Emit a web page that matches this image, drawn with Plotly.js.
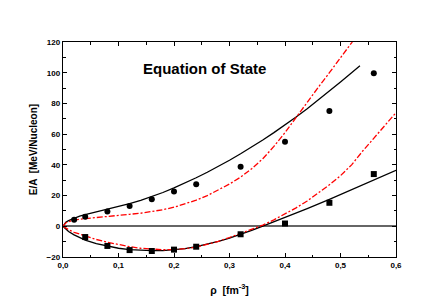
<!DOCTYPE html>
<html><head><meta charset="utf-8">
<script src="https://cdn.plot.ly/plotly-3.0.1.min.js"></script>
<style>html,body{margin:0;padding:0;background:#fff}#plot{width:436px;height:304px}</style>
</head><body><div id="plot"></div>
<script>
// Data points
const rhoNeutronPts = [0.02, 0.04, 0.08, 0.12, 0.16, 0.20, 0.24, 0.32, 0.40, 0.48, 0.56];
const eNeutronPts   = [4.2, 6.2, 9.6, 13.2, 17.6, 22.6, 27.3, 38.8, 55, 75, 99.7];
const rhoSymPts = [0.04, 0.08, 0.12, 0.16, 0.20, 0.24, 0.32, 0.40, 0.48, 0.56];
const eSymPts   = [-7, -12.8, -15.5, -16.1, -15.2, -13.3, -5.2, 1.8, 15.3, 34];

// Black solid curves
const rhoNeutronCurve = [0, 0.005, 0.01, 0.02, 0.03, 0.04, 0.06, 0.08, 0.10, 0.12, 0.14, 0.16, 0.18, 0.20, 0.22, 0.24, 0.26, 0.28, 0.30, 0.32, 0.34, 0.36, 0.38, 0.40, 0.42, 0.44, 0.46, 0.48, 0.50, 0.52, 0.535];
const eNeutronCurve   = [0, 2.6, 3.7, 5.4, 6.6, 7.6, 9.3, 11.0, 12.8, 14.8, 16.9, 19.3, 22.0, 25.0, 28.2, 31.6, 35.2, 39.0, 43.0, 47.2, 51.6, 56.2, 61.0, 66.0, 71.2, 76.6, 82.2, 88.0, 94.0, 100.0, 104.5];
const rhoSymCurve = [0, 0.005, 0.01, 0.02, 0.04, 0.06, 0.08, 0.10, 0.12, 0.14, 0.16, 0.18, 0.20, 0.22, 0.24, 0.26, 0.28, 0.30, 0.32, 0.34, 0.36, 0.38, 0.40, 0.44, 0.48, 0.52, 0.56, 0.60];
const eSymCurve   = [0, -2.0, -3.4, -5.6, -9.0, -11.3, -13.0, -14.3, -15.2, -15.7, -15.9, -15.8, -15.3, -14.5, -13.3, -11.8, -9.9, -7.7, -5.3, -2.7, 0.1, 2.9, 5.6, 11.5, 17.5, 23.7, 30.0, 36.5];

// Red dash-dot curves
const rhoNeutronAlt = [0, 0.005, 0.01, 0.02, 0.04, 0.06, 0.08, 0.10, 0.12, 0.14, 0.16, 0.18, 0.20, 0.22, 0.24, 0.26, 0.28, 0.30, 0.32, 0.34, 0.36, 0.38, 0.40, 0.42, 0.44, 0.46, 0.48, 0.50, 0.52, 0.53];
const eNeutronAlt   = [0, 2.2, 3.0, 4.0, 5.0, 5.8, 6.5, 7.0, 7.8, 8.5, 9.5, 10.8, 12.4, 14.5, 17.0, 20.0, 23.5, 27.5, 32.0, 37.5, 44.0, 52.0, 61.0, 71.0, 81.0, 90.5, 100.0, 109.5, 119.5, 125.0];
const rhoSymAlt = [0, 0.005, 0.01, 0.02, 0.04, 0.06, 0.08, 0.10, 0.12, 0.14, 0.16, 0.18, 0.20, 0.22, 0.24, 0.26, 0.28, 0.30, 0.32, 0.34, 0.36, 0.38, 0.40, 0.42, 0.44, 0.46, 0.48, 0.50, 0.52, 0.54, 0.56, 0.58, 0.60];
const eSymAlt   = [0, -1.2, -2.2, -3.9, -6.5, -8.6, -10.4, -12.0, -13.3, -14.3, -15.0, -15.3, -15.2, -14.6, -13.5, -11.9, -9.8, -7.3, -4.5, -2.0, 0.8, 4.2, 8.0, 12.0, 16.5, 21.5, 27.0, 33.0, 40.0, 49.0, 57.5, 65.5, 74.0];

const xTickVals = [0, 0.1, 0.2, 0.3, 0.4, 0.5, 0.6];
const xTickText = ['0,0', '0,1', '0,2', '0,3', '0,4', '0,5', '0,6'];
const yTickVals = [-20, 0, 20, 40, 60, 80, 100, 120];

const lw = 1.3;
const dashRed = '6px,2px,2px,2px';
const traces = [
  {x: rhoNeutronCurve, y: eNeutronCurve, mode: 'lines', line: {color: '#000', width: lw}},
  {x: rhoSymCurve, y: eSymCurve, mode: 'lines', line: {color: '#000', width: lw}},
  {x: rhoNeutronAlt, y: eNeutronAlt, mode: 'lines', line: {color: '#ff0000', width: lw, dash: dashRed}},
  {x: rhoSymAlt, y: eSymAlt, mode: 'lines', line: {color: '#ff0000', width: lw, dash: dashRed}},
  {x: rhoNeutronPts, y: eNeutronPts, mode: 'markers', marker: {symbol: 'circle', size: 6, color: '#000'}},
  {x: rhoSymPts, y: eSymPts, mode: 'markers', marker: {symbol: 'square', size: 6, color: '#000'}}
];

const fam = 'Liberation Sans, Arial, sans-serif';
const tickFont = {family: fam, size: 8, color: '#000', weight: 'bold'};
const axisCommon = {
  showgrid: false, showline: true, linecolor: '#000', linewidth: 1.3, mirror: 'allticks',
  ticks: 'inside', ticklen: 4, tickwidth: 1, tickcolor: '#000', tickfont: tickFont
};
const layout = {
  width: 436, height: 304,
  margin: {l: 63, r: 40, t: 42, b: 47},
  paper_bgcolor: '#fff', plot_bgcolor: '#fff',
  showlegend: false,
  xaxis: Object.assign({}, axisCommon, {
    range: [0, 0.6], tickvals: xTickVals, ticktext: xTickText, zeroline: false,
    minor: {dtick: 0.05, ticks: 'inside', ticklen: 2.5, tickcolor: '#000', tickwidth: 1},
    title: {text: 'ρ  [fm<sup>-3</sup>]', font: {family: fam, size: 10.5, color: '#000', weight: 'bold'}, standoff: 17}
  }),
  yaxis: Object.assign({}, axisCommon, {
    range: [-20, 120], tickvals: yTickVals,
    zeroline: true, zerolinecolor: '#666', zerolinewidth: 1.8,
    minor: {dtick: 10, ticks: 'inside', ticklen: 2.5, tickcolor: '#000', tickwidth: 1},
    title: {text: 'E/A  [MeV/Nucleon]', font: {family: fam, size: 10, color: '#000', weight: 'bold'}, standoff: 7}
  }),
  annotations: [{
    text: 'Equation of State', xref: 'x', yref: 'y', x: 0.255, y: 102.5, showarrow: false,
    font: {family: fam, size: 15, color: '#000', weight: 'bold'}
  }]
};
Plotly.newPlot('plot', traces, layout, {staticPlot: true, displayModeBar: false});
</script>
</body></html>
